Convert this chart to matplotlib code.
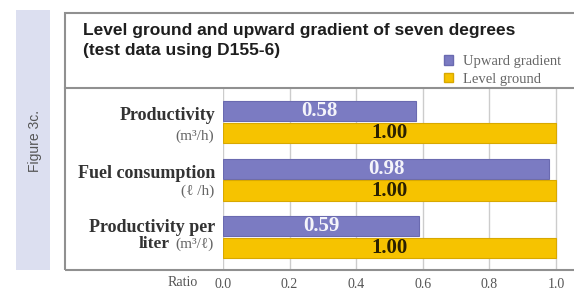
import matplotlib
matplotlib.use("Agg")
import matplotlib.pyplot as plt
from matplotlib.patches import Rectangle, Patch
from matplotlib.lines import Line2D
import numpy as np

# ---- data ----
categories = ["Productivity", "Fuel consumption", "Productivity per"]
sublabels = ["(m³/h)", "(ℓ /h)", "(m³/ℓ)"]
upward = [0.58, 0.98, 0.59]
level = [1.00, 1.00, 1.00]
series_names = ["Upward gradient", "Level ground"]
xticks = [0.0, 0.2, 0.4, 0.6, 0.8, 1.0]
tick_labels = ["0.0", "0.2", "0.4", "0.6", "0.8", "1.0"]

W, H = 574, 303
fig = plt.figure(figsize=(W / 100, H / 100), dpi=100)
fig.patch.set_facecolor("white")

def fx(x):
    return x / W

def fy(y):
    return 1 - y / H

PURPLE = "#7b7bc2"
PURPLE_E = "#6a6ab0"
YELLOW = "#f6c300"
YELLOW_E = "#d8a800"
BOX = "#909090"
SERIF = ["Liberation Serif", "DejaVu Serif"]
NARROW = ["Liberation Sans Narrow", "Liberation Sans", "DejaVu Sans"]

# sidebar
fig.add_artist(Rectangle((fx(16), fy(270)), fx(50) - fx(16), fy(10) - fy(270),
                         transform=fig.transFigure, facecolor="#dcdff0", edgecolor="none"))
fig.text(fx(35), fy(141), "Figure 3c.", rotation=90, ha="center", va="center",
         fontsize=10, color="#555555", family=NARROW)

# axes
x0, x1 = 223, 556
xmax = (W - x0) / (x1 - x0)
ax = fig.add_axes([fx(x0), fy(270), 1 - fx(x0), fy(88) - fy(270)])
ax.set_xlim(0, xmax)
ax.set_ylim(2.57, -0.59)
for s in ax.spines.values():
    s.set_visible(False)
ax.set_facecolor("none")
ax.set_yticks([])
ax.set_xticks(xticks)
ax.set_xticklabels(tick_labels, family=SERIF, fontsize=10, color="#555555")
ax.tick_params(axis="x", length=0, pad=6)
for xt in xticks:
    ax.axvline(xt, color="#cccccc", lw=1.0, zorder=0)

pos = np.arange(len(categories))
h = 0.35
off = 0.19
ax.barh(pos - off, upward, height=h, color=PURPLE, edgecolor=PURPLE_E, lw=0.8, zorder=2)
ax.barh(pos + off, level, height=h, color=YELLOW, edgecolor=YELLOW_E, lw=0.8, zorder=2)
for p, v in zip(pos, upward):
    ax.text(v / 2, p - off, f"{v:.2f}", ha="center", va="center", color="#f4f4fa",
            fontsize=15, fontweight="bold", family=SERIF, zorder=3)
for p, v in zip(pos, level):
    ax.text(v / 2, p + off, f"{v:.2f}", ha="center", va="center", color="#2a2000",
            fontsize=15, fontweight="bold", family=SERIF, zorder=3)

# category labels
main_y = [116, 173, 227]
sub_y = [136, 191, 244]
for i, (c, s) in enumerate(zip(categories, sublabels)):
    fig.text(fx(215), fy(main_y[i]), c, ha="right", va="center", fontsize=13,
             fontweight="bold", family=SERIF, color="#333333")
    fig.text(fx(214), fy(sub_y[i]), s, ha="right", va="center", fontsize=11,
             family=SERIF, color="#666666")
    if i == 2:
        fig.text(fx(170), fy(sub_y[i]), "liter", ha="right", va="center", fontsize=12.5,
                 fontweight="bold", family=SERIF, color="#333333")

fig.text(fx(198), fy(283), "Ratio", ha="right", va="center", fontsize=10,
         family=SERIF, color="#555555")

# box
fig.add_artist(Rectangle((fx(65), fy(270)), 1.2 - fx(65), fy(13) - fy(270),
                         transform=fig.transFigure, facecolor="none", edgecolor=BOX, lw=1.5))
fig.add_artist(Line2D([fx(65), 1.0], [fy(88), fy(88)], transform=fig.transFigure,
                      color=BOX, lw=1.5))

# title
fig.text(fx(83), fy(30), "Level ground and upward gradient of seven degrees", ha="left",
         va="center", fontsize=12.5, fontweight="bold", family=NARROW, color="#1e1e1e")
fig.text(fx(83), fy(50), "(test data using D155-6)", ha="left",
         va="center", fontsize=12.5, fontweight="bold", family=NARROW, color="#1e1e1e")

# legend
handles = [Patch(facecolor=PURPLE, edgecolor=PURPLE_E), Patch(facecolor=YELLOW, edgecolor=YELLOW_E)]
fig.legend(handles, series_names, loc="upper left",
           bbox_to_anchor=(fx(434), fy(45)), frameon=False,
           prop={"family": SERIF, "size": 10.5}, labelcolor="#666666",
           handlelength=0.6, handleheight=0.6, handletextpad=0.7,
           labelspacing=0.3, borderpad=0.2)

fig.savefig("out.png", dpi=100)
